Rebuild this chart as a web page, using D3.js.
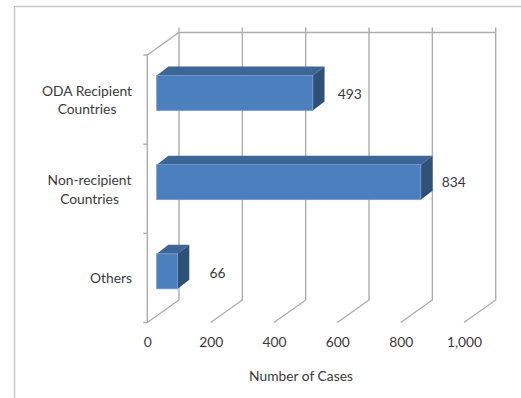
<!DOCTYPE html>
<html>
<head>
<meta charset="utf-8">
<script src="https://cdn.jsdelivr.net/npm/d3@7/dist/d3.min.js"></script>
<style>
  html, body { margin: 0; padding: 0; background: #fff; }
  svg { display: block; font-family: Lato, "Open Sans", sans-serif; }
  text { fill: #3a3a3a; font-size: 13.8px; }
  .grid { stroke: #adadad; stroke-width: 1.4; fill: none; }
</style>
</head>
<body>
<div id="chart"></div>
<script>
var categories = ["ODA Recipient Countries", "Non-recipient Countries", "Others"];
var cases = [493, 834, 66];
var xTicks = [0, 200, 400, 600, 800, 1000];

var width = 521, height = 398;

// floor corners of the front plane, depth pushes things up and to the right
var plot = {left: 147.3, right: 464, top: 55, bottom: 322.5};
var depth = {x: 31.7, y: -22.5};
var barOffset = {x: 9.4, y: -6.6};
var barDepth = {x: 11.7, y: -9};
var barHeight = 35;

var svg = d3.select("#chart")
  .append("svg")
    .attr("width", width)
    .attr("height", height);

// frame around the chart area, open to the right and bottom
svg.append("path")
  .attr("d", "M14.5,398V6.5H521")
  .attr("fill", "none")
  .attr("stroke", "#c6c6c6")
  .attr("stroke-width", 1.5);

var x = d3.scaleLinear()
  .domain([0, 1000])
  .range([plot.left, plot.right]);

var y = d3.scaleBand()
  .domain(categories)
  .range([plot.top, plot.bottom]);

// back wall: verticals, floor diagonals and the top rail
var grid = svg.append("g");

xTicks.forEach(function(t) {
  var bx = x(t) + depth.x, by = plot.bottom + depth.y;
  grid.append("path")
    .attr("class", "grid")
    .attr("d", `M${x(t)},${plot.bottom}L${bx},${by}V${plot.top + depth.y - 5}`);
});

grid.append("path")
  .attr("class", "grid")
  .attr("d", `M${plot.left},${plot.top}L${plot.left + depth.x},${plot.top + depth.y}H${plot.right + depth.x}`);

// category axis, ticks sit on the band edges
var edges = d3.range(categories.length + 1).map(function(i) { return plot.top + i * y.step(); });

grid.append("path")
  .attr("class", "grid")
  .attr("d", `M${plot.left},${plot.top}V${plot.bottom}`);

grid.selectAll(".edge")
  .data(edges)
  .enter().append("path")
    .attr("class", "grid edge")
    .attr("d", function(d) { return `M${plot.left - 4},${d}H${plot.left}`; });

// 3d bars
var bars = svg.selectAll(".bar")
  .data(cases)
  .enter().append("g")
    .attr("class", "bar")
    .attr("transform", function(d, i) {
      var top = y(categories[i]) + y.bandwidth() / 2 - barHeight / 2 + barOffset.y;
      return `translate(${plot.left + barOffset.x},${top})`;
    });

function barLength(d) { return x(d) - x(0); }

bars.append("path")
  .attr("fill", "#3d6595")
  .attr("d", function(d) {
    var w = barLength(d);
    return `M0,0L${barDepth.x},${barDepth.y}H${w + barDepth.x}L${w},0Z`;
  });

bars.append("path")
  .attr("fill", "#2f5178")
  .attr("d", function(d) {
    var w = barLength(d);
    return `M${w},0L${w + barDepth.x},${barDepth.y}V${barHeight + barDepth.y}L${w},${barHeight}Z`;
  });

bars.append("rect")
  .attr("width", barLength)
  .attr("height", barHeight)
  .attr("fill", "#4c7fbd")
  .attr("stroke", "#6f9ad0")
  .attr("stroke-width", 0.8);

// value labels, each nudged clear of its bar
var labelGap = [25, 21, 32];
var labelRise = [0, -1, 0];

bars.append("text")
  .attr("x", function(d, i) { return barLength(d) + labelGap[i]; })
  .attr("y", function(d, i) { return barHeight / 2 + 1.5 + labelRise[i]; })
  .attr("dy", "0.35em")
  .text(function(d) { return d; });

// value axis, only the labels are shown
var xAxis = svg.append("g")
  .attr("transform", `translate(0,${plot.bottom + 12})`)
  .call(d3.axisBottom(x).tickValues(xTicks).tickSize(0).tickFormat(d3.format(",")));

xAxis.select(".domain").remove();
xAxis.selectAll("text")
  .style("font-family", "Lato, 'Open Sans', sans-serif")
  .style("font-size", "13.8px");

// category labels, wrapped over two lines
var labelX = [87, 89.5, 111];

categories.forEach(function(name, i) {
  var words = name.split(" ");
  var lines = words.length > 2 ? [words.slice(0, 2).join(" "), words[2]] :
    words.length == 2 ? words : [name];
  var mid = y(name) + y.bandwidth() / 2 + 0.5;
  var label = svg.append("text")
    .attr("text-anchor", "middle");
  lines.forEach(function(line, j) {
    label.append("tspan")
      .attr("x", labelX[i])
      .attr("y", mid + (j - (lines.length - 1) / 2) * 18.5 + 5)
      .text(line);
  });
});

svg.append("text")
  .attr("x", 301)
  .attr("y", 381)
  .attr("text-anchor", "middle")
  .text("Number of Cases");
</script>
</body>
</html>
